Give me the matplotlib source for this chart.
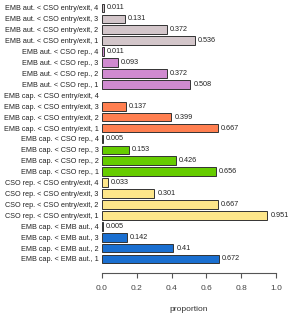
import numpy as np
import matplotlib
matplotlib.use("Agg")
import matplotlib.pyplot as plt

plt.rcParams['font.family'] = ['Liberation Sans', 'DejaVu Sans']

groups = ["EMB aut. < CSO entry/exit", "EMB aut. < CSO rep.",
          "EMB cap. < CSO entry/exit", "EMB cap. < CSO rep.",
          "CSO rep. < CSO entry/exit", "EMB cap. < EMB aut."]
levels = [4, 3, 2, 1]
values = [
    [0.011, 0.131, 0.372, 0.536],
    [0.011, 0.093, 0.372, 0.508],
    [np.nan, 0.137, 0.399, 0.667],
    [0.005, 0.153, 0.426, 0.656],
    [0.033, 0.301, 0.667, 0.951],
    [0.005, 0.142, 0.41, 0.672],
]
colors = ["#d3c6ca", "#d08ad0", "#ff7f50", "#66cc00", "#fde68a", "#1a6fd0"]

fig = plt.figure(figsize=(2.94, 3.13), dpi=100)
ax = fig.add_axes([102/294, 1 - 273/313, 174/294, (273 - 1.45)/313])

row = 0
for g, vals, c in zip(groups, values, colors):
    for lev, v in zip(levels, vals):
        if not np.isnan(v):
            ax.barh(row, v, height=0.8, color=c, edgecolor="#333333", linewidth=0.7)
            ax.text(v + 0.017, row, f"{v:g}", va="center", ha="left", fontsize=5.2, color="#222222")
        row += 1

labels = [f"{g}, {lev}" for g in groups for lev in levels]
ax.set_yticks(range(len(labels)))
ax.set_yticklabels(labels, fontsize=5.2, color="#222222")
ax.set_ylim(23 + (273 - 259)/10.91, -0.6)
ax.set_xlim(0, 1)
ax.set_xticks([0, 0.2, 0.4, 0.6, 0.8, 1.0])
ax.set_xticklabels(["0.0", "0.2", "0.4", "0.6", "0.8", "1.0"], fontsize=6, color="#444444")
ax.tick_params(axis="y", length=0, pad=2.5)
ax.tick_params(axis="x", length=3.5, color="#555555", pad=5)
for s in ["top", "right", "left"]:
    ax.spines[s].set_visible(False)
ax.spines["bottom"].set_color("#555555")
ax.set_xlabel("proportion", fontsize=6, labelpad=10, color="#333333")

fig.savefig("out.png", dpi=100)
